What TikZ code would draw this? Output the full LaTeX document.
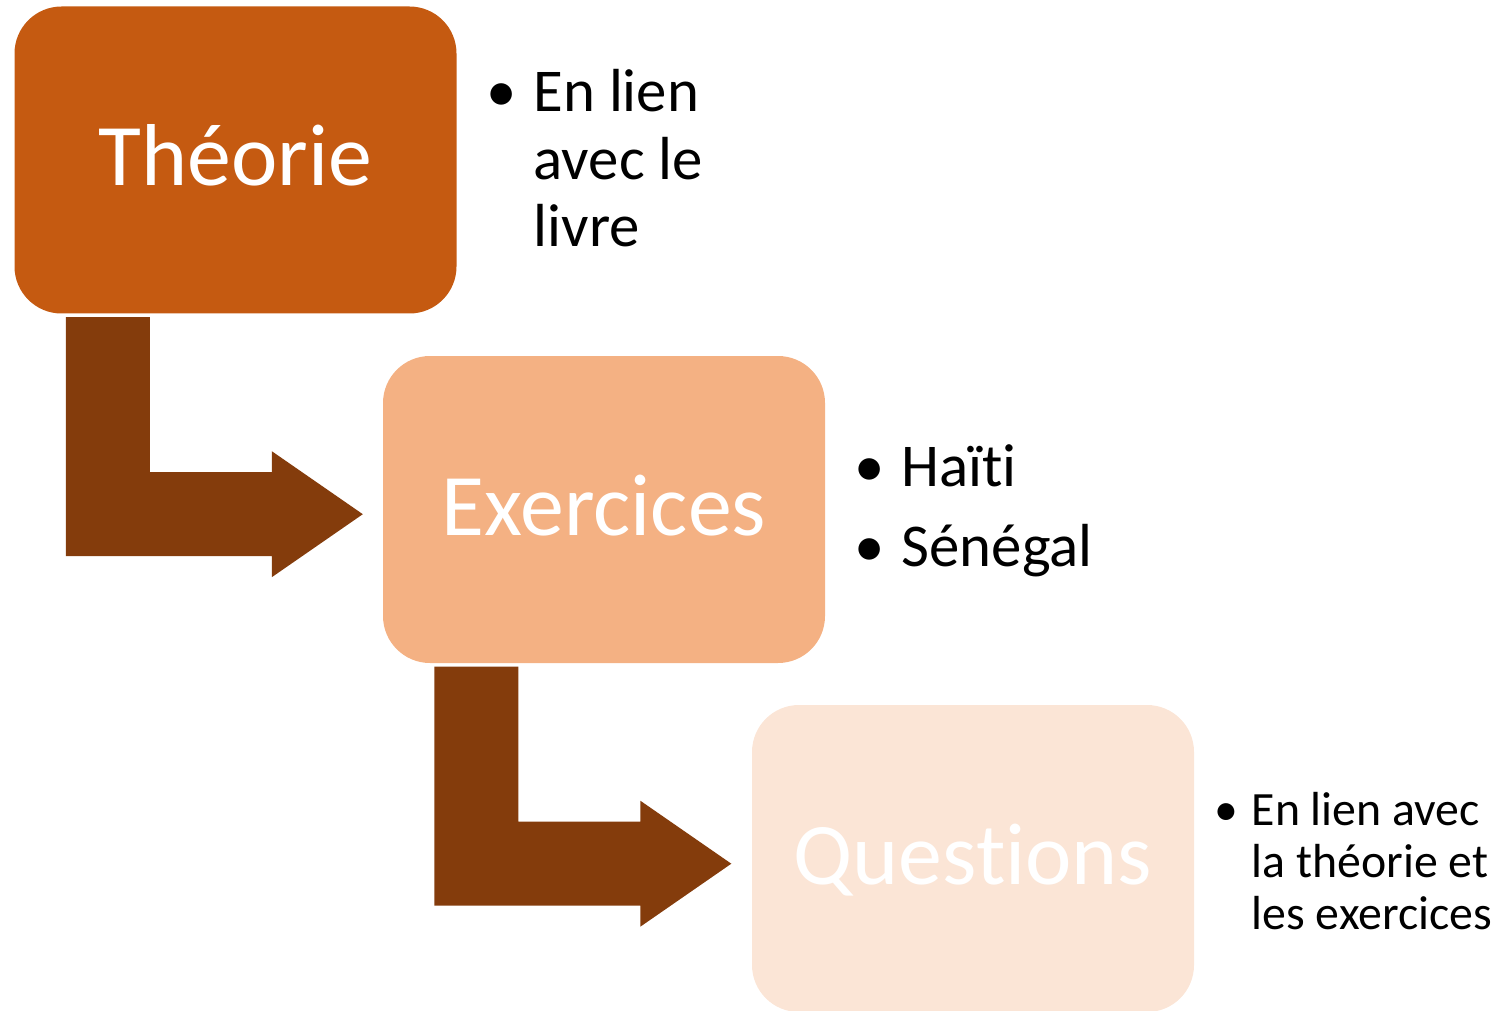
\documentclass[tikz,border=0pt]{standalone}
\usepackage{fontspec}
\setmainfont{Carlito}[RawFeature={-liga;-clig;-calt;-dlig}]
\usepackage{tikz}
\usetikzlibrary{calc}
\definecolor{theoriecol}{HTML}{C55A11}
\definecolor{exercicecol}{HTML}{F4B183}
\definecolor{questioncol}{HTML}{FBE5D6}
\definecolor{flechecol}{HTML}{843C0C}
\newcommand{\puce}[1]{\makebox[#1][l]{\textbullet}}

\begin{document}
\begin{tikzpicture}[x=0.1mm,y=-0.1mm]
      \tikzset{etape/.style={rectangle,
          rounded corners=4.7mm,
          minimum width=44.2mm,
          minimum height=30.7mm,
          inner sep=0pt,
          text height=5.2mm, text depth=0pt,
          text=white,
          font=\fontsize{25}{30}\selectfont,
          fill=#1},
        liste/.style={anchor=base west, inner sep=0pt},
        fleche/.style={fill=flechecol}
      }
      \useasboundingbox (0,0) rectangle (1498,1010);

      \node [etape=theoriecol] (theorie) at (235.5,160) {Théorie};
      \node [etape=exercicecol] (exercices) at (604,509.5) {Exercices};
      \node [etape=questioncol] (questions) at (973,858.5) {Questions};

      % fleches coudees
      \foreach \a in {theorie,exercices}
        \fill [fleche] ($(\a.south west)+(52,3)$) -- ++(84,0) -- ++(0,155)
          -- ++(122,0) -- ++(0,-21) -- ++(91,63) -- ++(-91,63)
          -- ++(0,-21) -- ++(-206,0) -- cycle;

      \node [liste, font=\fontsize{17.3}{19.1}\selectfont] (livre) at (486,112)
        {\begin{tabular}[t]{@{}l@{}l@{}}
          \puce{4.7mm} & En lien\\ & avec le\\ & livre
        \end{tabular}};
      \node [liste, font=\fontsize{17.3}{19.1}\selectfont] (pays) at (854,486)
        {\begin{tabular}[t]{@{}l@{}l@{}}
          \puce{4.7mm} & Haïti\\[3.7pt] \puce{4.7mm} & Sénégal
        \end{tabular}};
      \node [liste, font=\fontsize{13.6}{14.8}\selectfont] (liens) at (1214,825)
        {\begin{tabular}[t]{@{}l@{}l@{}}
          \puce{3.7mm} & En lien avec\\ & la théorie et\\ & les exercices
        \end{tabular}};
\end{tikzpicture}
\end{document}
